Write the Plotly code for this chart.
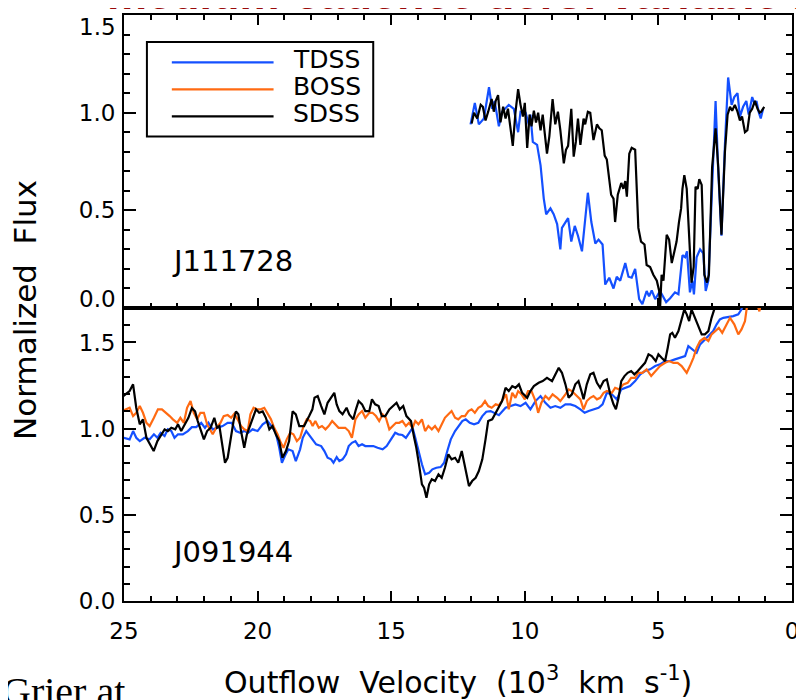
import plotly.graph_objects as go

# ---------------- data (velocity in 10^3 km/s, normalized flux) ----------------
top_tdss_x = [12.03, 11.87, 11.72, 11.53, 11.34, 11.22, 11.13, 10.97, 10.85, 10.6, 10.41, 10.25, 10.16, 9.97,
              9.85, 9.79, 9.70, 9.54, 9.41, 9.29, 9.20, 9.04, 8.92, 8.79, 8.67, 8.61, 8.38, 8.26, 8.13, 8.01,
              7.86, 7.74, 7.64, 7.51, 7.36, 7.24, 7.09, 6.99, 6.84, 6.68, 6.56, 6.43, 6.24, 6.12, 6.0, 5.87,
              5.72, 5.60, 5.44, 5.35, 5.25, 5.12, 4.94, 4.71, 4.56, 4.38, 4.25, 4.10, 4.00, 3.93, 3.82, 3.73,
              3.67, 3.57, 3.44, 3.32, 3.23, 3.13, 2.99, 2.86, 2.76, 2.64, 2.51, 2.39, 2.26, 2.16, 2.04, 1.95,
              1.83, 1.71, 1.62, 1.49, 1.39, 1.33, 1.24, 1.17, 1.08]
top_tdss_y = [0.94, 1.05, 0.94, 0.97, 1.13, 1.02, 1.06, 0.93, 1.005, 1.04, 1.02, 0.90, 1.005, 1.0,
              0.94, 0.99, 0.85, 0.835, 0.73, 0.56, 0.48, 0.51, 0.48, 0.43, 0.30, 0.41, 0.46, 0.34, 0.42, 0.37,
              0.29, 0.45, 0.59, 0.44, 0.33, 0.35, 0.325, 0.12, 0.155, 0.10, 0.16, 0.14, 0.23, 0.16, 0.155, 0.20,
              0.045, 0.02, 0.087, 0.06, 0.09, 0.045, 0.087, 0.03, 0.05, 0.08, 0.07, 0.27, 0.26, 0.29, 0.08, 0.14,
              0.07, 0.26, 0.30, 0.28, 0.087, 0.14, 0.61, 1.06, 0.70, 0.37, 0.835, 1.18, 1.04, 1.08, 1.10, 0.98,
              1.03, 1.06, 0.99, 1.08, 1.04, 1.06, 1.0, 0.97, 1.02]

top_sdss_x = [11.99, 11.90, 11.78, 11.65, 11.57, 11.47, 11.37, 11.24, 11.16, 11.09, 11.0, 10.91, 10.81, 10.72,
              10.63, 10.57, 10.45, 10.35, 10.25, 10.16, 10.07, 10.0, 9.91, 9.82, 9.75, 9.66, 9.58, 9.50, 9.41,
              9.33, 9.25, 9.17, 9.08, 8.96, 8.86, 8.76, 8.67, 8.54, 8.46, 8.38, 8.26, 8.17, 8.09, 8.01, 7.92,
              7.80, 7.74, 7.64, 7.55, 7.43, 7.30, 7.21, 7.12, 7.01, 6.93, 6.77, 6.68, 6.62, 6.52, 6.39, 6.31,
              6.24, 6.18, 6.09, 6.0, 5.87, 5.75, 5.65, 5.52, 5.44, 5.31, 5.19, 5.06, 4.97, 4.94, 4.88, 4.81,
              4.69, 4.60, 4.50, 4.40, 4.32, 4.23, 4.15, 4.10, 4.03, 3.94, 3.85, 3.76, 3.68, 3.61, 3.53, 3.47,
              3.38, 3.28, 3.18, 3.11, 2.99, 2.86, 2.76, 2.64, 2.51, 2.41, 2.32, 2.24, 2.14, 2.04, 1.95, 1.87,
              1.76, 1.67, 1.58, 1.49, 1.39, 1.29, 1.21, 1.15, 1.04]
top_sdss_y = [0.945, 1.0, 0.97, 1.04, 1.03, 0.96, 1.005, 1.07, 1.005, 1.06, 1.09, 0.95, 1.03, 0.97,
              1.02, 0.95, 0.83, 1.0, 1.12, 1.04, 0.98, 1.05, 0.82, 0.99, 0.93, 1.01, 0.95, 1.0, 0.91,
              0.99, 0.895, 0.79, 0.88, 1.07, 0.94, 1.005, 0.91, 0.74, 0.81, 0.83, 1.02, 0.775, 0.85, 0.97, 0.835,
              0.97, 0.94, 1.005, 1.0, 0.86, 0.94, 0.92, 0.91, 0.78, 0.76, 0.58, 0.56, 0.44, 0.58, 0.64, 0.61,
              0.65, 0.57, 0.79, 0.82, 0.81, 0.41, 0.34, 0.325, 0.22, 0.21, 0.17, 0.14, 0.087, -0.01, 0.17, 0.14,
              0.375, 0.35, 0.23, 0.29, 0.34, 0.44, 0.51, 0.61, 0.68, 0.61, 0.39, 0.13, 0.21, 0.62, 0.61, 0.66,
              0.63, 0.17, 0.13, 0.17, 0.72, 0.92, 0.72, 0.375, 0.80, 0.99, 1.03, 1.01, 1.04, 1.005, 0.96, 0.98,
              0.90, 0.91, 1.0, 1.02, 1.06, 1.02, 1.0, 1.005, 1.03]

bot_sdss_x = [25.1, 24.79, 24.66, 24.54, 24.41, 24.29, 24.16, 24.04, 23.89, 23.75, 23.60, 23.48, 23.36, 23.23,
              23.08, 22.98, 22.86, 22.73, 22.59, 22.46, 22.34, 22.24, 22.11, 22.01, 21.89, 21.76, 21.62, 21.52,
              21.43, 21.31, 21.22, 21.12, 20.99, 20.90, 20.81, 20.72, 20.62, 20.50, 20.40, 20.27, 20.19, 20.06,
              19.94, 19.81, 19.69, 19.56, 19.44, 19.32, 19.19, 19.07, 18.94, 18.82, 18.69, 18.57, 18.44, 18.26,
              18.07, 17.95, 17.87, 17.75, 17.62, 17.50, 17.38, 17.25, 17.13, 17.04, 16.94, 16.82, 16.67, 16.57,
              16.42, 16.32, 16.22, 16.09, 15.97, 15.82, 15.72, 15.60, 15.47, 15.35, 15.22, 15.07, 14.95, 14.80,
              14.68, 14.55, 14.43, 14.26, 14.14, 14.06, 13.96, 13.85, 13.77, 13.68, 13.58, 13.48, 13.36, 13.23,
              13.11, 12.99, 12.86, 12.74, 12.61, 12.49, 12.36, 12.24, 12.09, 11.97, 11.84, 11.72, 11.59, 11.47,
              11.37, 11.22, 11.09, 10.97, 10.85, 10.72, 10.60, 10.47, 10.35, 10.22, 10.10, 9.91, 9.79, 9.66,
              9.48, 9.33, 9.17, 8.98, 8.86, 8.73, 8.61, 8.48, 8.36, 8.24, 8.11, 7.99, 7.88, 7.80, 7.68, 7.55,
              7.43, 7.30, 7.18, 7.05, 6.93, 6.80, 6.68, 6.59, 6.49, 6.39, 6.27, 6.15, 6.02, 5.90, 5.77, 5.65,
              5.50, 5.37, 5.25, 5.10, 5.0, 4.88, 4.75, 4.65, 4.56, 4.48, 4.38, 4.25, 4.15, 4.03, 3.94, 3.85,
              3.76, 3.63, 3.51, 3.38, 3.26, 3.13, 3.01, 2.91, 2.80]
bot_sdss_y = [1.18, 1.218, 1.257, 1.12, 1.025, 1.054, 0.947, 0.909, 0.87, 0.928, 0.967, 0.996, 0.986, 1.005,
              0.996, 1.025, 0.986, 1.025, 1.063, 1.12, 1.10, 1.044, 0.976, 0.938, 0.986, 1.005, 1.063, 1.005,
              1.015, 0.889, 0.802, 0.831, 0.967, 1.044, 1.10, 1.083, 0.986, 0.889, 0.967, 1.025, 1.063, 1.112,
              1.092, 1.10, 1.063, 0.996, 1.015, 0.967, 0.928, 0.831, 0.87, 0.928, 1.10, 1.083, 1.015, 1.015,
              1.073, 1.112, 1.179, 1.189, 1.131, 1.083, 1.15, 1.179, 1.208, 1.141, 1.102, 1.083, 1.121, 1.083,
              1.054, 1.112, 1.16, 1.141, 1.102, 1.102, 1.170, 1.141, 1.131, 1.073, 1.073, 1.112, 1.131, 1.15,
              1.112, 1.131, 1.073, 1.044, 0.947, 0.889, 0.793, 0.677, 0.657, 0.599, 0.677, 0.706, 0.696, 0.735,
              0.715, 0.773, 0.851, 0.822, 0.831, 0.802, 0.87, 0.773, 0.667, 0.696, 0.715, 0.754, 0.822, 0.938,
              1.044, 1.054, 1.092, 1.131, 1.16, 1.237, 1.218, 1.247, 1.237, 1.257, 1.208, 1.179, 1.218, 1.247,
              1.266, 1.276, 1.295, 1.276, 1.315, 1.353, 1.324, 1.257, 1.179, 1.199, 1.257, 1.276, 1.218, 1.170,
              1.257, 1.315, 1.324, 1.266, 1.237, 1.276, 1.286, 1.199, 1.141, 1.112, 1.179, 1.276, 1.305, 1.324,
              1.334, 1.315, 1.334, 1.353, 1.382, 1.431, 1.421, 1.392, 1.431, 1.411, 1.392, 1.469, 1.547, 1.556,
              1.527, 1.566, 1.624, 1.692, 1.663, 1.624, 1.692, 1.643, 1.605, 1.547, 1.547, 1.566, 1.643, 1.692,
              1.80]

bot_boss_x = [25.1, 24.79, 24.66, 24.54, 24.41, 24.29, 24.16, 24.04, 23.88, 23.73, 23.58, 23.42, 23.29, 23.17,
              23.01, 22.89, 22.76, 22.64, 22.51, 22.39, 22.26, 22.14, 22.01, 21.89, 21.76, 21.68, 21.55, 21.39,
              21.27, 21.12, 20.99, 20.87, 20.75, 20.62, 20.50, 20.37, 20.27, 20.15, 20.02, 19.88, 19.75, 19.63,
              19.50, 19.38, 19.25, 19.13, 19.03, 18.91, 18.78, 18.66, 18.53, 18.41, 18.28, 18.16, 18.03, 17.94,
              17.84, 17.71, 17.59, 17.46, 17.34, 17.21, 17.09, 16.97, 16.84, 16.72, 16.59, 16.47, 16.34, 16.22,
              16.09, 15.97, 15.82, 15.70, 15.57, 15.45, 15.32, 15.20, 15.07, 14.95, 14.82, 14.70, 14.58, 14.45,
              14.33, 14.20, 14.10, 13.98, 13.85, 13.73, 13.61, 13.48, 13.36, 13.23, 13.11, 12.99, 12.86, 12.74,
              12.61, 12.49, 12.36, 12.24, 12.11, 11.99, 11.87, 11.74, 11.62, 11.49, 11.37, 11.24, 11.09, 10.97,
              10.78, 10.70, 10.60, 10.47, 10.35, 10.25, 10.12, 10.0, 9.88, 9.75, 9.60, 9.50, 9.38, 9.23, 9.10,
              8.96, 8.79, 8.67, 8.48, 8.36, 8.24, 8.11, 7.92, 7.80, 7.68, 7.55, 7.43, 7.30, 7.18, 7.05, 6.93,
              6.74, 6.62, 6.47, 6.31, 6.15, 6.02, 5.87, 5.75, 5.60, 5.44, 5.27, 5.12, 4.94, 4.75, 4.60, 4.44,
              4.28, 4.13, 3.94, 3.82, 3.69, 3.57, 3.44, 3.28, 3.13, 3.01, 2.88, 2.74, 2.61, 2.45, 2.32, 2.16,
              2.01, 1.89, 1.76, 1.70, 1.60, 1.35, 1.22, 1.15, 1.0]
bot_boss_y = [1.10, 1.121, 1.073, 1.092, 1.131, 1.092, 1.034, 1.015, 1.063, 1.112, 1.112, 1.092, 1.073, 1.054,
              1.034, 1.063, 1.034, 1.121, 1.16, 1.092, 1.054, 1.092, 1.092, 1.025, 0.986, 0.967, 1.005, 1.034,
              1.073, 1.079, 1.063, 1.087, 1.054, 1.015, 0.996, 0.986, 1.083, 1.121, 1.112, 1.112, 1.121, 1.092,
              1.054, 1.005, 0.967, 0.918, 0.889, 0.938, 0.976, 0.967, 0.928, 0.947, 1.015, 1.054, 1.044, 1.015,
              1.044, 1.005, 1.015, 0.996, 1.015, 1.044, 1.025, 1.005, 1.005, 1.005, 0.986, 0.947, 1.054, 1.083,
              1.102, 1.063, 1.092, 1.092, 1.073, 1.044, 1.083, 1.063, 0.996, 1.015, 1.034, 1.034, 1.044, 1.015,
              1.034, 1.005, 1.044, 1.025, 1.054, 0.986, 1.015, 0.996, 1.015, 0.986, 1.025, 1.063, 1.083, 1.102,
              1.063, 1.054, 1.073, 1.073, 1.102, 1.112, 1.092, 1.121, 1.131, 1.16, 1.131, 1.121, 1.141, 1.135,
              1.179, 1.199, 1.112, 1.208, 1.179, 1.218, 1.199, 1.170, 1.218, 1.218, 1.16, 1.092, 1.15, 1.189, 1.170,
              1.199, 1.179, 1.16, 1.199, 1.228, 1.218, 1.199, 1.170, 1.112, 1.16, 1.179, 1.189, 1.170, 1.179, 1.208, 1.218,
              1.208, 1.237, 1.228, 1.257, 1.266, 1.295, 1.295, 1.324, 1.324, 1.344, 1.305, 1.334, 1.363, 1.382, 1.392, 1.382,
              1.382, 1.363, 1.324, 1.363, 1.411, 1.469, 1.508, 1.527, 1.508, 1.547, 1.566, 1.585, 1.556, 1.605, 1.643, 1.605,
              1.547, 1.576, 1.624, 1.692, 1.80, 1.75, 1.68, 1.75, 1.80]

bot_tdss_x = [25.1, 24.79, 24.66, 24.54, 24.41, 24.23, 24.04, 23.88, 23.75, 23.63, 23.48, 23.36, 23.23, 23.11,
              22.98, 22.80, 22.61, 22.46, 22.30, 22.11, 21.97, 21.84, 21.68, 21.49, 21.31, 21.12, 20.97, 20.81,
              20.65, 20.50, 20.35, 20.19, 20.0, 19.81, 19.63, 19.48, 19.32, 19.19, 19.09, 18.98, 18.85, 18.69,
              18.57, 18.41, 18.31, 18.18, 18.0, 17.81, 17.62, 17.50, 17.38, 17.25, 17.16, 17.04, 16.94, 16.82,
              16.69, 16.59, 16.47, 16.34, 16.22, 16.09, 15.97, 15.82, 15.67, 15.51, 15.32, 15.17, 15.01, 14.85,
              14.73, 14.58, 14.45, 14.33, 14.20, 14.10, 13.98, 13.85, 13.73, 13.58, 13.46, 13.31, 13.15, 13.02,
              12.90, 12.77, 12.61, 12.49, 12.34, 12.21, 12.06, 11.90, 11.74, 11.59, 11.44, 11.28, 11.12, 10.97,
              10.72, 10.53, 10.35, 10.16, 9.97, 9.79, 9.60, 9.41, 9.23, 9.04, 8.86, 8.67, 8.48, 8.29, 8.11,
              7.92, 7.76, 7.61, 7.43, 7.24, 7.09, 6.93, 6.74, 6.56, 6.39, 6.22, 6.06, 5.87, 5.68, 5.50, 5.31,
              5.12, 4.94, 4.75, 4.56, 4.38, 4.19, 4.0, 3.88, 3.73, 3.57, 3.44, 3.32, 3.20, 3.07, 2.95, 2.82,
              2.70, 2.57, 2.39, 2.20, 2.01, 1.89, 1.75]
bot_tdss_y = [0.95, 0.938, 0.986, 0.947, 0.928, 0.947, 0.938, 0.967, 0.947, 0.976, 0.957, 0.996, 0.986, 0.947,
              0.967, 0.967, 0.986, 1.009, 1.009, 1.034, 1.005, 1.034, 0.996, 1.005, 1.015, 1.034, 1.034, 0.986,
              0.976, 0.986, 0.976, 0.996, 0.986, 1.025, 1.044, 1.015, 0.976, 0.889, 0.802, 0.841, 0.880, 0.87,
              0.812, 0.88, 0.947, 0.986, 0.947, 0.909, 0.899, 0.87, 0.831, 0.822, 0.802, 0.835, 0.812, 0.822,
              0.851, 0.899, 0.918, 0.928, 0.899, 0.909, 0.899, 0.899, 0.899, 0.889, 0.88, 0.899, 0.938, 0.976,
              0.967, 0.963, 0.947, 0.976, 1.005, 0.947, 0.87, 0.793, 0.735, 0.744, 0.764, 0.773, 0.777, 0.802,
              0.87, 0.938, 0.986, 1.015, 1.044, 1.054, 1.034, 1.025, 1.034, 1.073, 1.098, 1.102, 1.092, 1.078,
              1.121, 1.131, 1.141, 1.131, 1.15, 1.112, 1.16, 1.189, 1.15, 1.121, 1.131, 1.121, 1.141, 1.141, 1.131,
              1.112, 1.092, 1.102, 1.112, 1.121, 1.141, 1.208, 1.199, 1.170, 1.228, 1.237, 1.247, 1.276, 1.315, 1.334, 1.344,
              1.363, 1.373, 1.392, 1.392, 1.402, 1.411, 1.421, 1.479, 1.460, 1.44, 1.489, 1.508, 1.527, 1.547, 1.566, 1.605,
              1.634, 1.643, 1.647, 1.653, 1.663, 1.692, 1.78]

series_names = ["TDSS", "BOSS", "SDSS"]
series_colors = {"TDSS": "#1450ff", "BOSS": "#ff6a12", "SDSS": "#000000"}
panel_labels = ["J111728", "J091944"]
x_ticks = [25, 20, 15, 10, 5, 0]

# ---------------- figure ----------------
fig = go.Figure()
LW = 2.2
fig.add_trace(go.Scatter(x=top_tdss_x, y=top_tdss_y, mode="lines", line=dict(color=series_colors["TDSS"], width=LW),
                         xaxis="x", yaxis="y", showlegend=False))
fig.add_trace(go.Scatter(x=top_sdss_x, y=top_sdss_y, mode="lines", line=dict(color=series_colors["SDSS"], width=LW),
                         xaxis="x", yaxis="y", showlegend=False))
fig.add_trace(go.Scatter(x=bot_tdss_x, y=bot_tdss_y, mode="lines", line=dict(color=series_colors["TDSS"], width=LW),
                         xaxis="x2", yaxis="y2", showlegend=False))
fig.add_trace(go.Scatter(x=bot_boss_x, y=bot_boss_y, mode="lines", line=dict(color=series_colors["BOSS"], width=LW),
                         xaxis="x2", yaxis="y2", showlegend=False))
fig.add_trace(go.Scatter(x=bot_sdss_x, y=bot_sdss_y, mode="lines", line=dict(color=series_colors["SDSS"], width=LW),
                         xaxis="x2", yaxis="y2", showlegend=False))

FONT = "DejaVu Sans"
tickfont = dict(family=FONT, size=23, color="black")

xcommon = dict(range=[25, 0], tickvals=x_ticks, ticks="inside", ticklen=10, tickwidth=2, tickcolor="black",
               showline=True, linewidth=2, linecolor="black", showgrid=False, zeroline=False,
               minor=dict(dtick=1, ticks="inside", ticklen=5, tickwidth=1.5, tickcolor="black", showgrid=False))
ycommon = dict(ticks="inside", ticklen=12, tickwidth=2, tickcolor="black", showline=True, linewidth=2,
               linecolor="black", showgrid=False, zeroline=False, mirror="ticks", tickfont=tickfont,
               ticklabelstandoff=2,
               minor=dict(dtick=0.1, ticks="inside", ticklen=6, tickwidth=1.5, tickcolor="black", showgrid=False))

# the page body has an 8 px margin, so the figure is 8 px smaller and its margins 8 px tighter
fig.update_layout(
    width=796, height=692,
    margin=dict(l=116, r=10, t=5, b=99),
    paper_bgcolor="white", plot_bgcolor="white",
    xaxis=dict(**xcommon, anchor="y", domain=[0, 1], showticklabels=False, mirror="ticks"),
    xaxis2=dict(**xcommon, anchor="y2", domain=[0, 1], showticklabels=True, mirror=True,
                tickfont=dict(family=FONT, size=23, color="black"), ticklabelstandoff=8),
    yaxis=dict(**ycommon, anchor="x", domain=[0.5, 1], range=[0, 1.5],
               tickvals=[0.5, 1.0], ticktext=["0.5", "1.0"]),
    yaxis2=dict(**ycommon, anchor="x2", domain=[0, 0.5], range=[0, 1.7],
                tickvals=[0, 0.5, 1.0, 1.5], ticktext=["0.0", "0.5", "1.0", "1.5"]),
    showlegend=False,
)

ann = []
# shifted end labels of the upper panel
ann.append(dict(text="1.5", xref="paper", yref="y", x=-0.009, y=1.5, xanchor="right", yanchor="middle",
                yshift=-12, showarrow=False, font=tickfont))
ann.append(dict(text="0.0", xref="paper", yref="y", x=-0.009, y=0.0, xanchor="right", yanchor="middle",
                yshift=9, showarrow=False, font=tickfont))
# panel labels
ann.append(dict(text=panel_labels[0], xref="paper", yref="paper", x=0.0687, y=0.58, xanchor="left",
                yanchor="middle", showarrow=False, font=dict(family=FONT, size=29, color="black")))
ann.append(dict(text=panel_labels[1], xref="paper", yref="paper", x=0.0687, y=0.0833, xanchor="left",
                yanchor="middle", showarrow=False, font=dict(family=FONT, size=29, color="black")))
# axis titles
ann.append(dict(text="Outflow  Velocity  (10<sup>3</sup>  km  s<sup>-1</sup>)", xref="paper", yref="paper",
                x=0.5, y=-0.136, xanchor="center", yanchor="middle", showarrow=False,
                font=dict(family=FONT, size=30, color="black")))
ann.append(dict(text="Normalized  Flux", xref="paper", yref="paper", x=-0.148, y=0.497, xanchor="center",
                yanchor="middle", textangle=-90, showarrow=False, font=dict(family=FONT, size=31, color="black")))
# slide title (cut by the top of the frame) and slide footer text
ann.append(dict(text="<b>medium-cadence tiers: variable B</b>", xref="paper", yref="paper", x=-0.028, y=1,
                xanchor="left", yanchor="bottom", yshift=-6, showarrow=False,
                font=dict(family="Liberation Sans", size=45, color="#9a0a0a")))
ann.append(dict(text="Grier at", xref="paper", yref="paper", x=-0.185, y=-0.112, xanchor="left",
                yanchor="top", showarrow=False, font=dict(family="Liberation Serif", size=40, color="black")))

# legend box (drawn by hand, IDL style)
shapes = [dict(type="rect", xref="paper", yref="paper", x0=0.0343, x1=0.3731, y0=0.7925, y1=0.954,
               line=dict(color="black", width=2), fillcolor="white", layer="above")]
leg_y = [0.919, 0.873, 0.827]
for name, ly in zip(series_names, leg_y):
    shapes.append(dict(type="line", xref="paper", yref="paper", x0=0.0716, x1=0.2239, y0=ly, y1=ly,
                       line=dict(color=series_colors[name], width=2.2), layer="above"))
    ann.append(dict(text=name, xref="paper", yref="paper", x=0.2507, y=ly, yshift=3, xanchor="left",
                    yanchor="middle", showarrow=False, font=dict(family=FONT, size=25, color="black")))

fig.update_layout(annotations=ann, shapes=shapes)
fig.write_html("out.html")
